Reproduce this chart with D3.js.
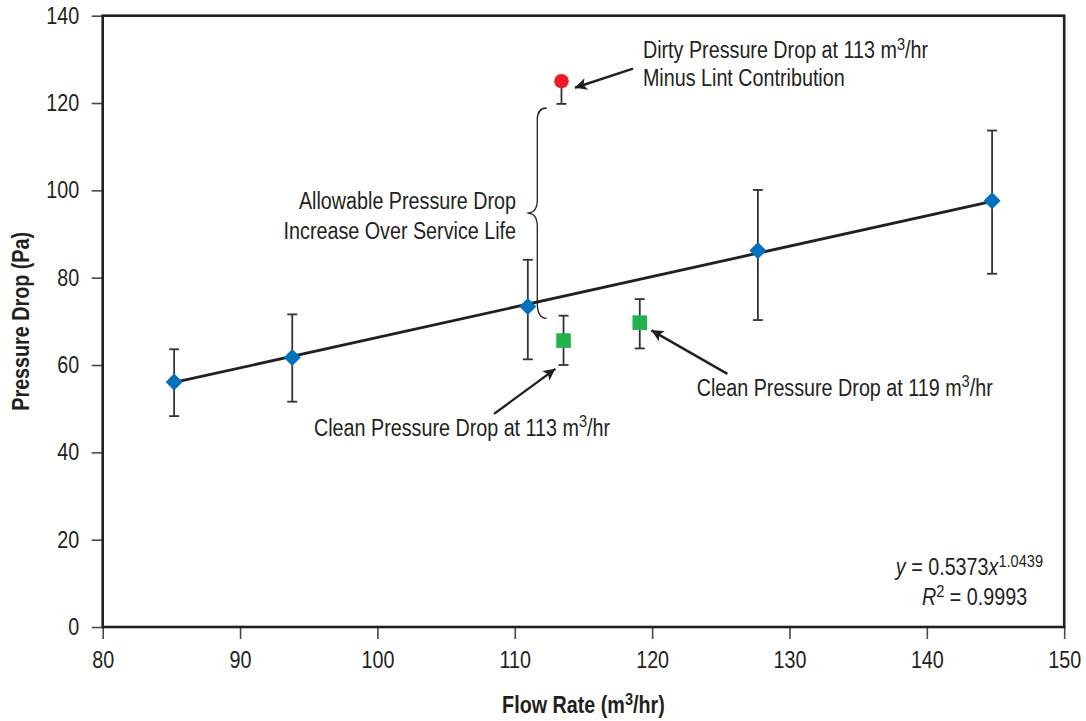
<!DOCTYPE html>
<html>
<head>
<meta charset="utf-8">
<script src="https://cdn.jsdelivr.net/npm/d3@7"></script>
<style>
  html, body { margin: 0; padding: 0; background: #fff; }
  svg { display: block; }
  text { font-family: "Liberation Sans", Arial, sans-serif; fill: #231f20; }
</style>
</head>
<body>
<svg id="chart" width="1086" height="721"></svg>
<script>
// ---- data ----
const xTicks = [80, 90, 100, 110, 120, 130, 140, 150];
const yTicks = [0, 20, 40, 60, 80, 100, 120, 140];

const flowRates = [85.2, 93.8, 110.95, 127.7, 144.75];
const pressureDrops = [56.1, 61.7, 73.4, 86.2, 97.6];
const errLow = [48.3, 51.6, 61.3, 70.3, 80.9];
const errHigh = [63.6, 71.6, 84.1, 100.1, 113.7];

const trendX = [85.2, 144.75];
const trendY = [56.0, 97.5];

const cleanFlow = [113.55, 119.1];
const cleanDrop = [65.6, 69.7];
const cleanLow = [60.0, 63.8];
const cleanHigh = [71.3, 75.1];

const dirtyFlow = [113.4];
const dirtyDrop = [125.0];
const dirtyLow = [119.8];

const xLabel = "Flow Rate (m³/hr)";
const yLabel = "Pressure Drop (Pa)";

(function () {
// ---- layout ----
const svg = d3.select("#chart");
const mL = 102.7, mR = 1064.2, mT = 15.7, mB = 627;
const x = d3.scaleLinear().domain([80, 150]).range([mL, mR]);
const y = d3.scaleLinear().domain([0, 140]).range([mB, mT]);
const FS = 23.5;
const SX = 0.84;   // horizontal condensing (narrow face)
const ink = "#231f20";

// axes
const gx = svg.append("g").attr("transform", `translate(0,${mB})`)
  .call(d3.axisBottom(x).tickValues(xTicks).tickSize(12).tickPadding(12).tickSizeOuter(0).tickFormat(d3.format("d")));
const gy = svg.append("g").attr("transform", `translate(${mL},0)`)
  .call(d3.axisLeft(y).tickValues(yTicks).tickSize(11).tickPadding(12.5).tickSizeOuter(0).tickFormat(d3.format("d")));
[gx, gy].forEach(g => {
  g.select(".domain").remove();
  g.selectAll(".tick line").attr("stroke", "#4a4a4a").attr("stroke-width", 1.6);
  g.selectAll(".tick text").attr("font-size", FS).attr("fill", ink)
    .attr("font-family", '"Liberation Sans", Arial, sans-serif')
    .attr("transform", `scale(${SX},1)`);
});
gy.selectAll(".tick text").attr("x", -23.5 / SX);

// frame
svg.append("rect").attr("x", mL).attr("y", mT).attr("width", mR - mL).attr("height", mB - mT)
  .attr("fill", "none").attr("stroke", ink).attr("stroke-width", 2.6);

// arrow marker
svg.append("defs").append("marker").attr("id", "arr")
  .attr("viewBox", "0 0 10 10").attr("refX", 10).attr("refY", 5)
  .attr("markerWidth", 17).attr("markerHeight", 12).attr("markerUnits", "userSpaceOnUse")
  .attr("orient", "auto")
  .append("path").attr("d", "M0,0 L10,5 L0,10 L2.5,5 Z").attr("fill", ink);

// trend line
svg.append("path")
  .datum(trendX.map((d, i) => [d, trendY[i]]))
  .attr("d", d3.line().x(d => x(d[0])).y(d => y(d[1])))
  .attr("fill", "none").attr("stroke", ink).attr("stroke-width", 2.8);

// error bars helper
function errBar(cx, lo, hi, capLo = true, capHi = true) {
  const g = svg.append("g").attr("stroke", "#333").attr("stroke-width", 1.8);
  g.append("line").attr("x1", x(cx)).attr("x2", x(cx)).attr("y1", y(lo)).attr("y2", y(hi));
  if (capLo) g.append("line").attr("x1", x(cx) - 5).attr("x2", x(cx) + 5).attr("y1", y(lo)).attr("y2", y(lo));
  if (capHi) g.append("line").attr("x1", x(cx) - 5).attr("x2", x(cx) + 5).attr("y1", y(hi)).attr("y2", y(hi));
}
flowRates.forEach((d, i) => errBar(d, errLow[i], errHigh[i]));
cleanFlow.forEach((d, i) => errBar(d, cleanLow[i], cleanHigh[i]));
dirtyFlow.forEach((d, i) => errBar(d, dirtyLow[i], dirtyDrop[i], true, false));

// diamonds
svg.selectAll(".dia").data(flowRates).enter().append("path")
  .attr("d", d3.symbol(d3.symbolSquare, 145))
  .attr("transform", (d, i) => `translate(${x(d)},${y(pressureDrops[i])}) rotate(45)`)
  .attr("fill", "#0071bc");

// squares
svg.selectAll(".sq").data(cleanFlow).enter().append("rect")
  .attr("x", d => x(d) - 7.3).attr("y", (d, i) => y(cleanDrop[i]) - 7.3)
  .attr("width", 14.6).attr("height", 14.6).attr("fill", "#22b14c");

// dirty circle
svg.selectAll(".dc").data(dirtyFlow).enter().append("circle")
  .attr("cx", d => x(d)).attr("cy", (d, i) => y(dirtyDrop[i])).attr("r", 7.3)
  .attr("fill", "#ed1c24");

// bracket
const bx0 = 112.32, bx1 = 111.64, btip = 110.91;
const bp = d3.path();
bp.moveTo(x(bx0), y(118.86));
bp.quadraticCurveTo(x(bx1), y(118.86), x(bx1), y(116.2));
bp.lineTo(x(bx1), y(97.85));
bp.quadraticCurveTo(x(bx1), y(94.8), x(btip), y(94.8));
bp.quadraticCurveTo(x(bx1), y(94.8), x(bx1), y(91.7));
bp.lineTo(x(bx1), y(74.2));
bp.quadraticCurveTo(x(bx1), y(70.7), x(bx0), y(70.7));
svg.append("path").attr("d", bp.toString()).attr("fill", "none").attr("stroke", ink).attr("stroke-width", 1.3);

// arrows
const arrows = [
  [[118.61, 127.86], [114.38, 123.5]],
  [[108.49, 48.81], [112.96, 59.12]],
  [[125.48, 57.97], [119.95, 67.94]]
];
arrows.forEach(a => {
  svg.append("line").attr("x1", x(a[0][0])).attr("y1", y(a[0][1]))
    .attr("x2", x(a[1][0])).attr("y2", y(a[1][1]))
    .attr("stroke", ink).attr("stroke-width", 2.4).attr("marker-end", "url(#arr)");
});

// text helper with superscripts, condensed horizontally
function label(px, py, anchor, parts, weight = "normal", rot = 0) {
  const t = svg.append("text")
    .attr("transform", `translate(${px},${py}) rotate(${rot}) scale(${SX},1)`)
    .attr("text-anchor", anchor).attr("font-size", FS).attr("font-weight", weight);
  parts.forEach(p => {
    const s = t.append("tspan").text(p.t);
    if (p.sup) s.attr("font-size", FS * 0.74).attr("dy", -FS * 0.36);
    if (p.down) s.attr("dy", FS * 0.36);
    if (p.it) s.attr("font-style", "italic");
  });
  return t;
}
label(x(119.33), y(130.3), "start", [{t: "Dirty Pressure Drop at 113 m"}, {t: "3", sup: true}, {t: "/hr", down: true}]);
label(x(119.33), y(123.8), "start", [{t: "Minus Lint Contribution"}]);
label(x(110.09), y(95.8), "end", [{t: "Allowable Pressure Drop"}]);
label(x(110.09), y(88.8), "end", [{t: "Increase Over Service Life"}]);
label(x(95.38), y(43.77), "start", [{t: "Clean Pressure Drop at 113 m"}, {t: "3", sup: true}, {t: "/hr", down: true}]);
label(x(123.24), y(52.93), "start", [{t: "Clean Pressure Drop at 119 m"}, {t: "3", sup: true}, {t: "/hr", down: true}]);
label(x(148.46), y(11.9), "end", [{t: "y", it: true}, {t: " = 0.5373"}, {t: "x", it: true}, {t: "1.0439", sup: true}]);
label(x(147.3), y(5.04), "end", [{t: "R", it: true}, {t: "2", sup: true}, {t: " = 0.9993", down: true}]);

// axis titles
label((mL + mR) / 2, 713, "middle", [{t: "Flow Rate (m"}, {t: "3", sup: true}, {t: "/hr)", down: true}], "bold");
label(29, (mT + mB) / 2, "middle", [{t: yLabel}], "bold", -90);
})();
</script>
</body>
</html>
